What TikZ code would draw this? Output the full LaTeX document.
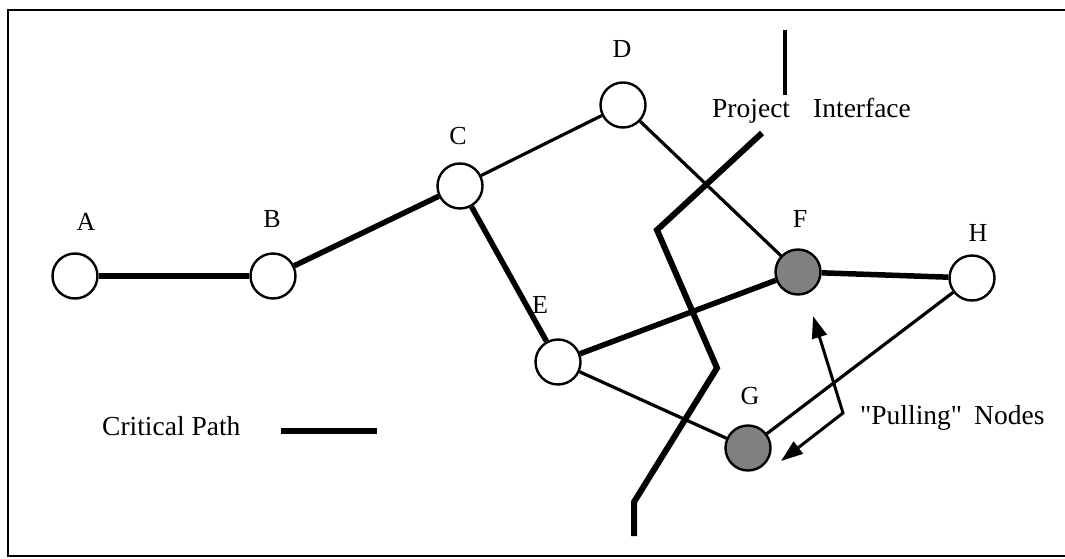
\documentclass[tikz,border=0pt]{standalone}
\usepackage{fontspec}
\setmainfont{Liberation Serif}
\usetikzlibrary{arrows.meta}
\begin{document}
\begin{tikzpicture}[x=1pt,y=-1pt,
  ev/.style={circle,draw=black,line width=2.4pt,fill=white,minimum size=45pt,inner sep=0pt},
  pull/.style={ev,fill=black!50},
  lbl/.style={font=\fontsize{26}{28}\selectfont,inner sep=0pt},
  txt/.style={font=\fontsize{27.5}{30}\selectfont,inner sep=0pt,anchor=base west},
  crit/.style={line width=5.5pt},
  thin/.style={line width=3.2pt},
  iface/.style={line width=6pt,line join=miter},
  frame/.style={line width=1.8pt}]
\useasboundingbox (0,0) rectangle (1065,559);
\draw[frame] (1065,10) -- (8,10) -- (8,556) -- (1065,556);
% nodes
\node[ev] (A) at (75,276) {};
\node[ev] (B) at (273,276) {};
\node[ev] (C) at (460,186) {};
\node[ev] (D) at (623,105) {};
\node[ev] (E) at (558,362) {};
\node[pull] (F) at (798,272) {};
\node[ev] (H) at (972,278) {};
\node[pull] (G) at (748,448) {};
% labels
\node[lbl] (lA) at (86,222) {A};
\node[lbl] (lB) at (272,219) {B};
\node[lbl] (lC) at (458,136) {C};
\node[lbl] (lD) at (622,49) {D};
\node[lbl] (lE) at (540,305) {E};
\node[lbl] (lF) at (800,219) {F};
\node[lbl] (lH) at (978,233) {H};
\node[lbl] (lG) at (750,396) {G};
% edges
\draw[crit] (A) -- (B);
\draw[crit] (B) -- (C);
\draw[thin] (C) -- (D);
\draw[crit] (C) -- (E);
\draw[thin] (D) -- (F);
\draw[crit] (E) -- (F);
\draw[thin] (E) -- (G);
\draw[crit] (F) -- (H);
\draw[thin] (G) -- (H);
% interface
\coordinate (i0) at (785,30);
\coordinate (i1) at (785,95);
\draw[line width=4pt] (i0) -- (i1);
\node[txt] (pi1) at (712,118) {Project};
\node[txt] (pi2) at (813,118) {Interface};
\coordinate (p0) at (762,133);
\coordinate (p1) at (657,230);
\coordinate (p2) at (717,368);
\coordinate (p3) at (634,502);
\coordinate (p4) at (634,536);
\draw[iface] (p0) -- (p1) -- (p2) -- (p3) -- (p4);
% pulling arrows
\coordinate (up) at (813,316);
\coordinate (cn) at (843,413);
\coordinate (dn) at (781,461);
\draw[line width=3pt,{Triangle[length=22pt,width=15pt]}-{Triangle[length=22pt,width=15pt]}] (up) -- (cn) -- (dn);
\node[txt] (pn1) at (860,424) {\textquotedbl Pulling\textquotedbl};
\node[txt] (pn2) at (974,424) {Nodes};
% legend
\node[txt] (cp) at (102,435) {Critical Path};
\coordinate (l0) at (281,431);
\coordinate (l1) at (377,431);
\draw[line width=6pt] (l0) -- (l1);
\end{tikzpicture}
\end{document}
